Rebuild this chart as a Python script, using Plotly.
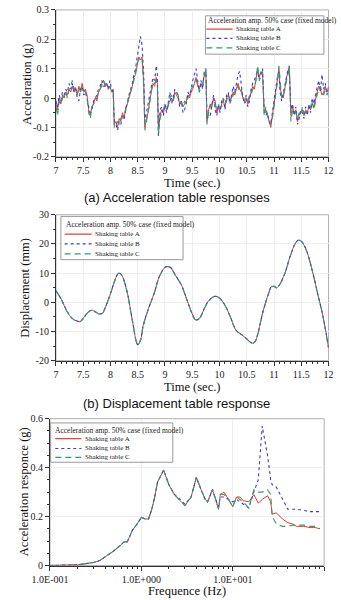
import plotly.graph_objects as go

# ---------------- Panel (a): acceleration time histories ----------------
time_a = [7.00,7.03,7.06,7.09,7.12,7.15,7.18,7.21,7.24,7.27,
          7.30,7.33,7.36,7.39,7.42,7.45,7.48,7.51,7.54,7.57,
          7.60,7.63,7.66,7.69,7.72,7.75,7.78,7.81,7.84,7.87,
          7.90,7.93,7.96,7.99,8.02,8.05,8.07,8.10,8.13,8.16,
          8.19,8.22,8.25,8.28,8.31,8.34,8.37,8.40,8.43,8.46,
          8.49,8.52,8.55,8.58,8.61,8.63,8.66,8.69,8.72,8.75,
          8.78,8.81,8.84,8.86,8.88,8.91,8.94,8.97,9.00,9.03,
          9.06,9.09,9.12,9.15,9.18,9.21,9.24,9.27,9.30,9.33,
          9.36,9.39,9.42,9.45,9.48,9.51,9.54,9.57,9.60,9.63,
          9.66,9.69,9.72,9.75,9.77,9.80,9.83,9.86,9.89,9.92,
          9.95,9.98,10.01,10.04,10.07,10.10,10.13,10.16,10.19,10.22,
          10.25,10.28,10.31,10.34,10.37,10.40,10.43,10.46,10.49,10.52,
          10.55,10.58,10.61,10.64,10.67,10.70,10.73,10.76,10.79,10.82,
          10.85,10.88,10.91,10.94,10.97,11.00,11.03,11.06,11.09,11.11,
          11.14,11.17,11.20,11.23,11.26,11.28,11.31,11.34,11.37,11.40,
          11.43,11.46,11.49,11.52,11.55,11.58,11.61,11.64,11.67,11.70,
          11.73,11.76,11.79,11.82,11.85,11.88,11.91,11.94,11.97,12.00]

acc_A = [-0.02,-0.04,0.00,-0.02,0.01,0.00,0.02,0.01,0.03,0.02,
         0.04,0.02,0.03,0.01,0.04,0.02,0.05,0.02,0.03,0.01,
         -0.04,-0.06,-0.03,-0.02,0.00,-0.01,0.02,0.03,0.05,0.06,
         0.04,0.05,0.03,0.04,0.02,0.03,-0.09,-0.08,-0.10,-0.07,
         -0.08,-0.05,-0.07,-0.03,-0.02,0.00,0.02,0.04,0.07,0.08,
         0.11,0.14,0.13,0.14,0.05,-0.10,-0.07,-0.05,-0.01,0.02,
         0.05,0.04,0.07,0.05,-0.11,-0.06,-0.04,-0.05,-0.03,-0.04,
         -0.02,-0.01,0.00,-0.01,0.02,0.01,0.00,-0.02,-0.01,-0.03,
         -0.02,-0.01,0.01,0.00,0.02,0.03,0.05,0.07,0.04,0.03,
         0.05,0.04,0.08,0.09,-0.08,-0.04,-0.02,-0.03,0.00,-0.01,
         -0.05,-0.03,-0.04,-0.02,-0.01,-0.03,0.00,0.01,-0.01,0.00,
         0.02,0.01,0.03,0.05,0.03,0.02,0.00,-0.01,0.00,-0.02,
         0.00,0.02,0.04,0.03,0.07,0.10,0.07,0.09,0.08,-0.05,
         -0.04,-0.06,-0.08,-0.10,-0.06,-0.02,0.03,0.06,0.10,0.04,
         0.01,0.00,0.04,0.07,0.09,0.11,-0.06,-0.03,-0.05,-0.04,
         -0.08,-0.06,-0.05,-0.04,-0.06,-0.04,-0.05,-0.03,-0.04,-0.02,
         -0.03,0.00,0.02,0.04,0.03,0.01,0.02,0.04,0.02,0.03]

acc_B = [-0.01,-0.03,0.01,-0.01,0.02,0.01,0.03,0.02,0.05,0.03,
         0.05,0.02,0.04,0.00,-0.01,0.03,0.04,0.01,0.02,0.00,
         -0.03,-0.05,-0.04,-0.01,0.00,0.01,0.03,0.04,0.06,0.04,
         0.04,0.05,0.03,0.06,0.03,0.02,-0.08,-0.09,-0.11,-0.08,
         -0.09,-0.06,-0.07,-0.04,-0.02,0.01,0.03,0.05,0.08,0.10,
         0.14,0.17,0.21,0.18,0.08,-0.08,-0.05,-0.03,0.01,0.04,
         0.07,0.06,0.11,0.08,-0.13,-0.04,-0.03,-0.06,-0.02,-0.05,
         -0.01,0.02,-0.02,0.00,0.03,0.02,0.01,-0.03,-0.01,-0.05,
         -0.04,-0.02,0.02,0.01,0.03,0.06,0.08,0.10,0.06,0.02,
         0.06,0.03,0.09,0.10,-0.07,-0.05,-0.06,-0.02,0.01,-0.04,
         -0.06,-0.02,-0.05,-0.01,0.00,-0.04,0.01,0.02,-0.02,0.01,
         0.04,0.02,0.05,0.08,0.09,0.04,0.00,-0.02,0.01,-0.03,
         -0.01,0.03,0.05,0.06,0.08,0.09,0.06,0.08,0.10,-0.04,
         -0.06,-0.05,-0.08,-0.09,-0.05,-0.01,0.04,0.07,0.09,0.02,
         -0.01,0.02,0.05,0.08,0.10,0.09,-0.04,-0.02,-0.06,-0.03,
         -0.09,-0.07,-0.04,-0.05,-0.07,-0.03,-0.06,-0.02,-0.05,0.00,
         -0.02,0.01,0.04,0.06,0.02,0.08,0.03,0.05,0.01,0.04]

acc_C = [-0.03,-0.06,-0.01,-0.02,0.00,0.01,0.02,0.00,0.03,0.04,
         0.06,0.03,0.02,0.01,0.03,0.02,0.04,0.03,0.02,0.00,
         -0.05,-0.07,-0.03,-0.02,-0.01,0.00,0.02,0.03,0.04,0.06,
         0.05,0.04,0.03,0.04,0.03,0.02,-0.10,-0.09,-0.08,-0.09,
         -0.07,-0.06,-0.06,-0.04,-0.02,0.01,0.02,0.04,0.06,0.09,
         0.12,0.13,0.14,0.13,0.04,-0.11,-0.08,-0.04,-0.02,0.03,
         0.04,0.05,0.06,0.04,-0.12,-0.07,-0.05,-0.04,-0.02,-0.03,
         -0.03,0.00,0.01,-0.01,0.01,0.02,0.01,-0.01,-0.02,-0.03,
         -0.01,-0.02,0.00,0.01,0.03,0.04,0.05,0.06,0.05,0.02,
         0.04,0.05,0.07,0.10,-0.09,-0.05,-0.03,-0.02,-0.01,-0.02,
         -0.04,-0.04,-0.03,-0.03,0.00,-0.02,-0.01,0.01,0.00,-0.01,
         0.01,0.02,0.03,0.04,0.02,0.03,0.01,-0.01,-0.02,-0.01,
         0.01,0.01,0.03,0.04,0.06,0.11,0.06,0.08,0.09,-0.06,
         -0.03,-0.06,-0.07,-0.09,-0.07,-0.03,0.02,0.05,0.11,0.05,
         0.00,0.01,0.03,0.06,0.08,0.11,-0.08,-0.04,-0.04,-0.05,
         -0.07,-0.05,-0.06,-0.03,-0.05,-0.05,-0.04,-0.03,-0.03,-0.01,
         -0.04,-0.01,0.01,0.03,0.04,0.02,0.01,0.03,0.03,0.02]

acc_ticks = [-0.2, -0.1, 0, 0.1, 0.2, 0.3]
acc_ticktext = ["-0.2", "-0.1", "0", "0.1", "0.2", "0.3"]

# ---------------- Panel (b): displacement time histories ----------------
time_b = [7.0,7.1,7.2,7.3,7.4,7.45,7.5,7.6,7.65,7.7,7.8,7.85,7.9,8.0,8.1,8.15,
          8.2,8.3,8.4,8.5,8.55,8.6,8.7,8.8,8.9,9.0,9.05,9.1,9.2,9.3,9.4,9.5,
          9.55,9.6,9.65,9.7,9.8,9.9,9.95,10.0,10.1,10.2,10.3,10.4,10.5,10.6,
          10.65,10.7,10.8,10.9,10.95,11.0,11.05,11.1,11.2,11.3,11.4,11.45,11.5,
          11.6,11.7,11.8,11.9,12.0]
disp_A = [4.0,1.0,-3.0,-5.5,-6.5,-6.5,-5.5,-3.2,-2.7,-3.0,-4.0,-3.8,-2.0,3.0,8.5,10.0,
          9.5,4.0,-6.0,-14.5,-13.0,-8.0,-2.0,3.0,9.0,12.0,12.3,12.0,9.0,6.0,1.0,-4.0,
          -5.8,-6.0,-5.0,-3.0,0.5,2.0,2.0,1.5,-1.0,-5.0,-9.5,-11.0,-12.5,-14.0,
          -13.5,-11.0,-3.0,3.0,5.3,5.5,5.0,6.0,10.0,16.0,20.5,21.3,21.0,
          17.5,11.0,3.0,-5.0,-15.5]
disp_B = list(disp_A)
disp_C = [v - 0.1 for v in disp_A]

disp_ticks = [-20, -10, 0, 10, 20, 30]
disp_ticktext = ["-20", "-10", "0", "10", "20", "30"]

# ---------------- Panel (c): response spectra ----------------
freq = [0.1,0.2,0.3,0.35,0.4,0.5,0.6,0.65,0.7,0.75,0.8,0.9,1.0,1.1,1.2,1.3,1.4,1.5,
        1.75,2.0,2.3,2.5,3.0,3.5,4.0,4.5,5.0,5.3,6.0,6.5,7.0,7.3,8.0,9.0,10.0,11.0,
        12.0,13.0,15.0,17.0,19.0,21.0,24.0,26.0,27.0,30.0,35.0,40.0,45.0,50.0,60.0,
        70.0,80.0,90.0]
spec_A = [0.0,0.003,0.012,0.02,0.035,0.06,0.085,0.097,0.096,0.12,0.145,0.17,0.197,0.19,
          0.19,0.23,0.28,0.34,0.39,0.33,0.29,0.275,0.245,0.28,0.36,0.31,0.27,0.26,0.31,
          0.27,0.23,0.29,0.30,0.27,0.24,0.28,0.28,0.265,0.26,0.29,0.255,0.27,0.285,0.26,
          0.21,0.215,0.19,0.175,0.17,0.16,0.16,0.155,0.155,0.15]
spec_B = [0.0,0.003,0.012,0.02,0.035,0.06,0.085,0.097,0.096,0.12,0.145,0.17,0.197,0.19,
          0.19,0.23,0.28,0.34,0.39,0.33,0.29,0.28,0.25,0.28,0.36,0.31,0.27,0.26,0.31,
          0.27,0.24,0.28,0.28,0.27,0.26,0.27,0.26,0.25,0.235,0.30,0.35,0.57,0.45,0.35,
          0.33,0.32,0.27,0.23,0.23,0.23,0.225,0.22,0.22,0.22]
spec_C = [0.0,0.003,0.012,0.02,0.035,0.06,0.085,0.097,0.096,0.12,0.145,0.17,0.197,0.19,
          0.19,0.23,0.28,0.34,0.39,0.33,0.29,0.275,0.245,0.28,0.36,0.31,0.27,0.26,0.31,
          0.27,0.23,0.29,0.29,0.27,0.24,0.28,0.27,0.26,0.235,0.31,0.30,0.30,0.31,0.29,
          0.20,0.17,0.16,0.16,0.165,0.165,0.165,0.16,0.16,0.15]

spec_yticks = [0, 0.2, 0.4, 0.6]
spec_yticktext = ["0", "0.2", "0.4", "0.6"]
spec_ticks = [0.1, 1, 10, 100]
spec_ticktext = ["1.0E-001", "1.0E+000", "1.0E+001", "1.0E+002"]

series_names = ["Shaking table A", "Shaking table B", "Shaking table C"]
legend_title = "Acceleration amp. 50% case (fixed model)"

W, H = 341, 600
SERIF = "Liberation Serif"
SANS = "Liberation Sans"

styles = [dict(color="#e53935", width=1.0, dash="solid"),
          dict(color="#3b3bd6", width=1.1, dash="dot"),
          dict(color="#2e9e6a", width=1.1, dash="6px,4px")]

fig = go.Figure()

def add_series(xs, ys_list, xa, ya, shape="linear"):
    for name, ys, st in zip(series_names, ys_list, styles):
        fig.add_trace(go.Scatter(x=xs, y=ys, mode="lines", name=name, line=dict(shape=shape, **st),
                                 xaxis=xa, yaxis=ya, showlegend=False))

add_series(time_a, [acc_A, acc_B, acc_C], "x", "y")
add_series(time_b, [disp_A, disp_B, disp_C], "x2", "y2", shape="spline")
add_series(freq, [spec_A, spec_B, spec_C], "x3", "y3")

def px_x(p):
    return p / W

def px_y(p):
    return 1 - p / H

axis_common = dict(showline=True, linecolor="#333333", linewidth=1, ticks="outside", ticklen=4,
                   tickcolor="#333333", tickfont=dict(family=SERIF, size=10, color="#222"),
                   showgrid=True, gridcolor="#eeeeee", gridwidth=1, zeroline=False)

dom_a_x = [px_x(40.7), px_x(333)]
dom_a_y = [px_y(154.3), px_y(5)]
dom_b_y = [px_y(361.7), px_y(213.3)]
dom_c_x = [px_x(34.3), px_x(328.3)]
dom_c_y = [px_y(570), px_y(420.7)]

minor_common = dict(ticks="outside", ticklen=2, tickcolor="#333333", showgrid=False)

fig.update_layout(
    xaxis=dict(domain=dom_a_x, anchor="y", range=[7, 12], dtick=0.5, tick0=7,
               minor=dict(dtick=0.1, **minor_common), **axis_common),
    yaxis=dict(domain=dom_a_y, anchor="x", range=[-0.2, 0.3], tickmode="array",
               tickvals=acc_ticks, ticktext=acc_ticktext,
               minor=dict(dtick=0.05, **minor_common), **axis_common),
    xaxis2=dict(domain=dom_a_x, anchor="y2", range=[7, 12], dtick=0.5, tick0=7,
                minor=dict(dtick=0.1, **minor_common), **axis_common),
    yaxis2=dict(domain=dom_b_y, anchor="x2", range=[-20, 30], tickmode="array",
                tickvals=disp_ticks, ticktext=disp_ticktext,
                minor=dict(dtick=5, **minor_common), **axis_common),
    xaxis3=dict(domain=dom_c_x, anchor="y3", type="log", range=[-1, 2], tickmode="array",
                tickvals=spec_ticks, ticktext=spec_ticktext,
                minor=dict(tickmode="array",
                           tickvals=[m * d for d in (0.1, 1, 10) for m in range(2, 10)],
                           **minor_common), **axis_common),
    yaxis3=dict(domain=dom_c_y, anchor="x3", range=[0, 0.6], tickmode="array",
                tickvals=spec_yticks, ticktext=spec_yticktext,
                minor=dict(dtick=0.05, **minor_common), **axis_common),
)

shapes = []
for xr, yr in (("x", "y"), ("x2", "y2"), ("x3", "y3")):
    shapes.append(dict(type="rect", xref=xr + " domain", yref=yr + " domain", x0=0, x1=1, y0=0, y1=1,
                       line=dict(color="#b0b0b0", width=1), layer="below"))

annos = []
def text(x, y, s, size, family=SERIF, angle=0, xanchor="center", color="#111"):
    annos.append(dict(x=px_x(x), y=px_y(y), xref="paper", yref="paper", text=s, showarrow=False,
                      textangle=angle, xanchor=xanchor, yanchor="middle",
                      font=dict(family=family, size=size, color=color)))

# manual legends (box, title, line samples, labels)
def legend_box(x0, y0, x1, y1, title_x, title_y, line_x0, line_x1, text_x, rows):
    shapes.append(dict(type="rect", xref="paper", yref="paper", x0=px_x(x0), x1=px_x(x1),
                       y0=px_y(y1), y1=px_y(y0), line=dict(color="#999999", width=1),
                       fillcolor="white", layer="above"))
    text(title_x, title_y, legend_title, 7.5, xanchor="left", color="#222")
    for name, st, ry in zip(series_names, styles, rows):
        shapes.append(dict(type="line", xref="paper", yref="paper", x0=px_x(line_x0), x1=px_x(line_x1),
                           y0=px_y(ry), y1=px_y(ry), layer="above",
                           line=dict(color=st["color"], width=1.2, dash=st["dash"])))
        text(text_x, ry, name, 7.0, xanchor="left", color="#222")

legend_box(201, 11, 328, 50, 202, 15.5, 202, 230, 232, [24.5, 34, 43.5])
legend_box(46, 215, 177, 259, 49, 223, 50, 79, 80, [233, 243, 253])
legend_box(35, 425, 166, 465, 38, 433, 40, 68, 70, [441, 451, 460])

text(187, 181, "Time (sec.)", 12.5)
text(9, 80, "Acceleration (g)", 12.5, angle=-90)
text(170, 196, "(a) Acceleration table responses", 13, family=SANS)
text(187, 388, "Time (sec.)", 12.5)
text(8, 287, "Displacement (mm)", 12.5, angle=-90)
text(170, 405, "(b) Displacement table response", 13, family=SANS)
text(181, 596, "Frequence (Hz)", 12.5)
text(6, 495, "Acceleration responce (g)", 12.5, angle=-90)

fig.update_layout(width=W, height=H, autosize=False, margin=dict(l=0, r=0, t=0, b=0),
                  paper_bgcolor="white", plot_bgcolor="white", shapes=shapes, annotations=annos,
                  showlegend=False)

fig.write_html("out.html")
